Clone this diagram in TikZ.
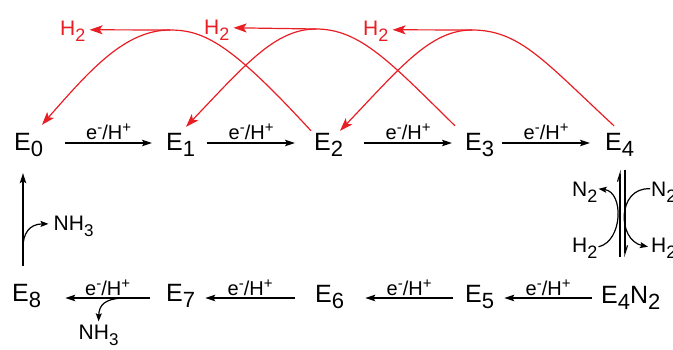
\documentclass[tikz,border=0pt]{standalone}
\usepackage{fontspec}
\setmainfont{Liberation Sans}
\usetikzlibrary{arrows.meta}
\definecolor{rd}{RGB}{232,30,36}
\newcommand\lowsub[2][22]{\raisebox{-6pt}{\fontsize{#1}{#1}\selectfont #2}}
\newcommand\hisup[1]{\raisebox{7pt}{\fontsize{15}{15}\selectfont #1}}
\newcommand\eh{e\hisup{-}/H\hisup{+}}
\begin{document}
\begin{tikzpicture}[x=1pt,y=-1pt,
  st/.style={font=\fontsize{25}{25}\selectfont, inner sep=0pt, anchor=base west, text height=18pt, text depth=5pt},
  lab/.style={font=\fontsize{20}{20}\selectfont, inner sep=0pt},
  chem/.style={font=\fontsize{21}{21}\selectfont, inner sep=0pt, anchor=base west},
  arr/.style={-{Stealth[length=10pt,width=6.5pt,inset=2pt]}, line width=1.2pt},
  rarr/.style={rd, -{Stealth[length=13pt,width=9pt,inset=3pt]}, line width=1.2pt},
  rline/.style={rd, line width=1.2pt},
  harpL/.style={-{Straight Barb[left,length=8pt,width=5pt]}, line width=1.1pt},
  carr/.style={-{Stealth[length=8pt,width=6pt,inset=1.5pt]}, line width=1.2pt}]
\useasboundingbox (0,0) rectangle (673,349);
% top row
\node[st] (E0) at (14,150) {E\lowsub{0}};
\node[st] (E1) at (166,150) {E\lowsub{1}};
\node[st] (E2) at (314,150) {E\lowsub{2}};
\node[st] (E3) at (465,150) {E\lowsub{3}};
\node[st] (E4) at (605,150) {E\lowsub{4}};
% bottom row
\node[st] (E8) at (12,301) {E\lowsub{8}};
\node[st] (E7) at (166,301) {E\lowsub{7}};
\node[st] (E6) at (315,302) {E\lowsub{6}};
\node[st] (E5) at (465,302) {E\lowsub{5}};
\node[st] (E4N2) at (601,303) {E\lowsub{4}N\lowsub{2}};
% top arrows
\draw[arr] ([shift={(22,-0.5)}]E0.east) -- ([shift={(-14,-0.5)}]E1.west)
  node[lab, midway, above=3pt] {\eh};
\draw[arr] ([shift={(12,-0.5)}]E1.east) -- ([shift={(-19,-0.5)}]E2.west)
  node[lab, midway, above=3pt] {\eh};
\draw[arr] ([shift={(21,-0.5)}]E2.east) -- ([shift={(-13,-0.5)}]E3.west)
  node[lab, midway, above=3pt] {\eh};
\draw[arr] ([shift={(8,-0.5)}]E3.east) -- ([shift={(-15,-0.5)}]E4.west)
  node[lab, midway, above=3pt] {\eh};
% bottom arrows
\draw[arr] ([shift={(-16,3.5)}]E7.west) -- ([shift={(24,3.5)}]E8.east)
  node[lab, midway, above=1.5pt] {\eh}
  coordinate[pos=0.33] (n1);
\draw[arr] ([shift={(-20,2.5)}]E6.west) -- ([shift={(10,3.5)}]E7.east)
  node[lab, midway, above=1.5pt] {\eh};
\draw[arr] ([shift={(-12,2.5)}]E5.west) -- ([shift={(21,2.5)}]E6.east)
  node[lab, midway, above=1.5pt] {\eh};
\draw[arr] ([shift={(-9,1.5)}]E4N2.west) -- ([shift={(10,2.5)}]E5.east)
  node[lab, midway, above=1.5pt] {\eh};
% NH3 release
\node[chem] (NH3b) at (78.5,339) {NH\lowsub[17]{3}};
\draw[carr] (n1) .. controls (105,299) and (99,305) .. ([shift={(0,-3)}]NH3b.north);
\node[chem] (NH3a) at (53.5,230) {NH\lowsub[17]{3}};
\draw[arr] ([shift={(11,-17)}]E8.north west) -- coordinate[pos=0.2] (b1) ([shift={(9,18)}]E0.south west);
\draw[carr] (b1) .. controls (23,234) and (29,224) .. ([shift={(-5,-2)}]NH3a.west);
% equilibrium E4 <-> E4N2
\coordinate (qa1) at (620,257);
\coordinate (qa2) at (620,170);
\coordinate (qb1) at (625,170);
\coordinate (qb2) at (625,257);
\draw[harpL] (qa1) -- (qa2);
\draw[harpL] (qb1) -- (qb2);
\node[chem] (N2L) at (572,196) {N\lowsub[18]{2}};
\node[chem] (H2L) at (572,252) {H\lowsub[18]{2}};
\node[chem] (N2R) at (651,196) {N\lowsub[18]{2}};
\node[chem] (H2R) at (651,252) {H\lowsub[18]{2}};
\draw[carr] ([shift={(1,-1)}]H2L.east) .. controls (623,241) and (624,192) .. ([shift={(1,-3)}]N2L.east);
\draw[carr] ([shift={(-1,-3)}]N2R.west) .. controls (617,187) and (617,240) .. ([shift={(-3,-1)}]H2R.west);
% red H2 loops
\node[chem, rd] (H2a) at (60,35) {H\lowsub[18]{2}};
\node[chem, rd] (H2b) at (204,34) {H\lowsub[18]{2}};
\node[chem, rd] (H2c) at (363,35) {H\lowsub[18]{2}};
\coordinate (t1) at (170,30);
\coordinate (t2) at (316,29);
\coordinate (t3) at (472,30);
% loop 1: E2 -> E0
\draw[rline] ([shift={(-3,-1)}]E2.north west) .. controls (232,45) and (205,30) .. (t1);
\draw[rarr] (t1) .. controls (125,30) and (90,70) .. ([shift={(28,-7)}]E0.north west);
\draw[rarr] (t1) -- ([shift={(4,-1)}]H2a.east);
% loop 2: E3 -> E1
\draw[rline] ([shift={(-10,-6)}]E3.north west) .. controls (390,62) and (360,29) .. (t2);
\draw[rarr] (t2) .. controls (275,29) and (245,65) .. ([shift={(20,-5)}]E1.north west);
\draw[rarr] (t2) -- ([shift={(4,-2)}]H2b.east);
% loop 3: E4 -> E2
\draw[rline] ([shift={(9,-6)}]E4.north west) .. controls (545,62) and (520,30) .. (t3);
\draw[rarr] (t3) .. controls (430,30) and (400,68) .. ([shift={(26,-1)}]E2.north west);
\draw[rarr] (t3) -- ([shift={(4,-1)}]H2c.east);
\end{tikzpicture}
\end{document}
